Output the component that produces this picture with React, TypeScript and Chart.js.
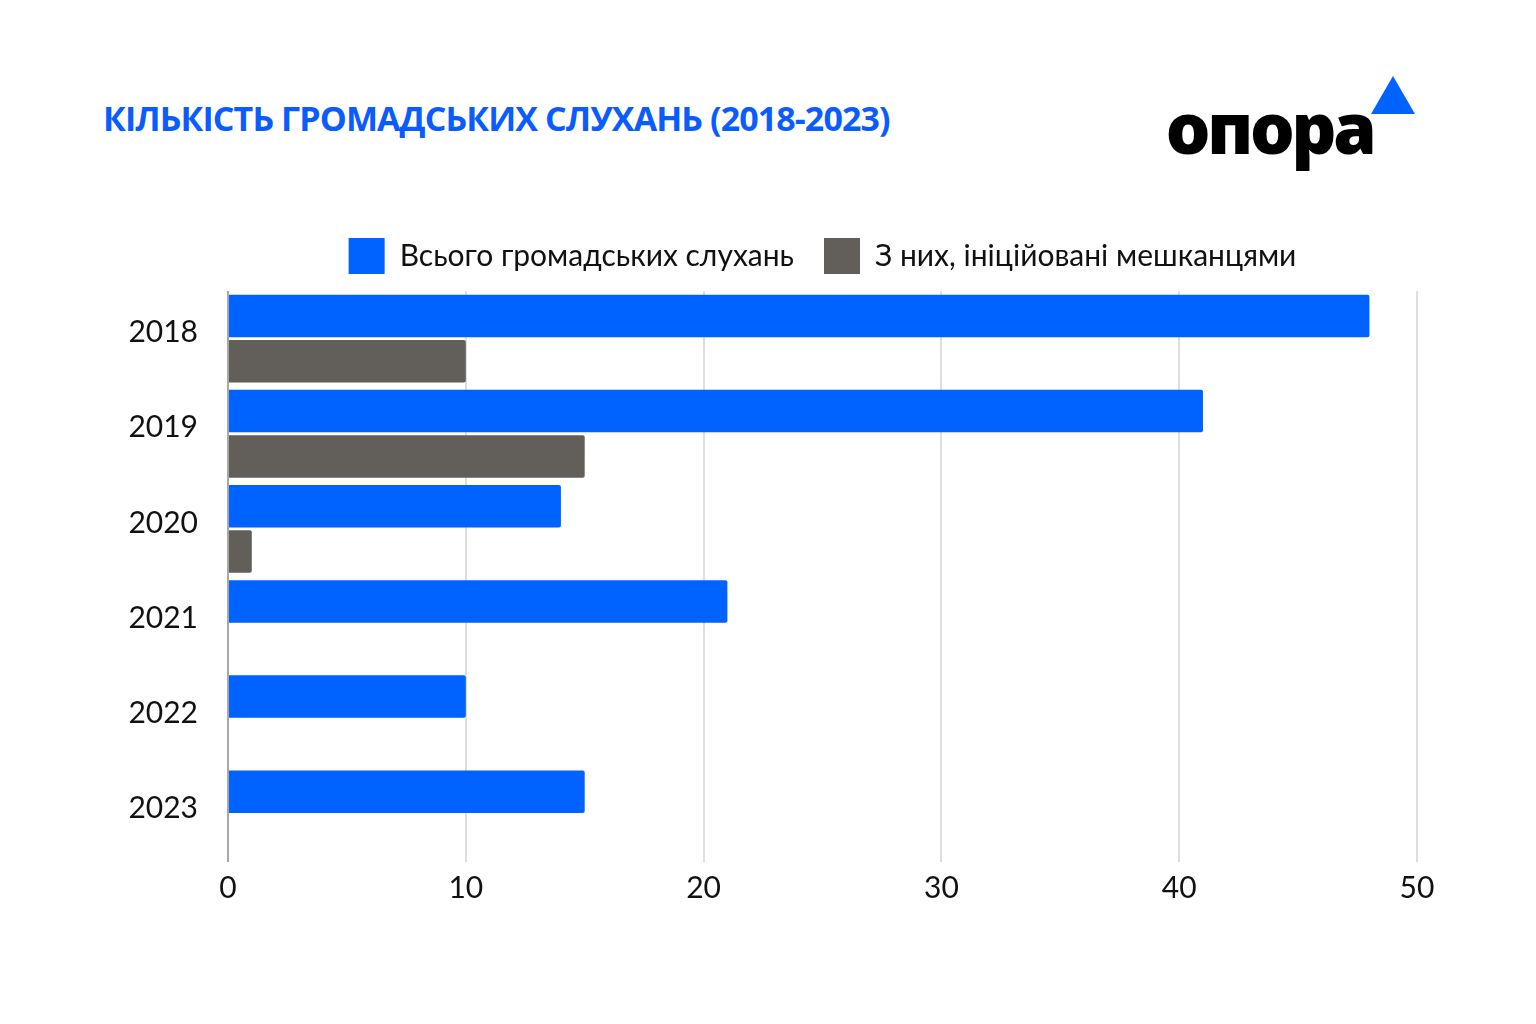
import React, { useEffect, useRef } from 'react';
import { Chart, registerables } from 'chart.js';

Chart.register(...registerables);

const years = ['2018', '2019', '2020', '2021', '2022', '2023'];
const totalHearings = [48, 41, 14, 21, 10, 15];
const residentInitiated = [10, 15, 1, 0, 0, 0];
const xTicks = [0, 10, 20, 30, 40, 50];

const BLUE = '#0062FF';
const GREY = '#625E59';
const FONT = 'Lato, "Noto Sans", sans-serif';

const legendFit = {
  id: 'legendFit',
  beforeInit(chart: any) {
    const orig = chart.legend.fit;
    chart.legend.fit = function () {
      orig.call(this);
      this.height = 83;
    };
  },
};

const App: React.FC = () => {
  const chartRef = useRef<HTMLCanvasElement | null>(null);

  useEffect(() => {
    let chartInstance: Chart | null = null;
    if (chartRef.current) {
      const ctx = chartRef.current.getContext('2d');
      if (ctx) {
        chartInstance = new Chart(ctx, {
          type: 'bar',
          data: {
            labels: years,
            datasets: [
              {
                label: 'Всього громадських слухань',
                data: totalHearings,
                backgroundColor: BLUE,
                borderRadius: 2,
                borderSkipped: 'start',
                barPercentage: 0.938,
                categoryPercentage: 0.952,
              },
              {
                label: 'З них, ініційовані мешканцями',
                data: residentInitiated,
                backgroundColor: GREY,
                borderRadius: 2,
                borderSkipped: 'start',
                barPercentage: 0.938,
                categoryPercentage: 0.952,
              },
            ],
          },
          plugins: [legendFit],
          options: {
            indexAxis: 'y',
            responsive: false,
            animation: false,
            devicePixelRatio: 1,
            layout: { padding: { top: 8, right: 119, left: 0, bottom: 0 } },
            plugins: {
              tooltip: { enabled: false },
              legend: {
                position: 'top',
                fullSize: false,
                labels: {
                  boxWidth: 36,
                  boxHeight: 36,
                  padding: 30,
                  color: '#111',
                  font: { family: FONT, size: 30 },
                },
              },
            },
            scales: {
              x: {
                min: 0,
                max: 50,
                afterBuildTicks: (scale: any) => {
                  scale.ticks = xTicks.map((v) => ({ value: v }));
                },
                afterFit: (scale: any) => {
                  scale.height = 78;
                },
                grid: {
                  color: (c: any) => (c.tick && c.tick.value === 0 ? '#a8a8a8' : '#dedede'),
                  lineWidth: 2,
                  drawTicks: false,
                },
                border: { display: false },
                ticks: {
                  padding: 8,
                  color: '#111',
                  font: { family: FONT, size: 30 },
                },
              },
              y: {
                afterFit: (scale: any) => {
                  scale.width = 228;
                },
                grid: { display: false },
                border: { display: false },
                ticks: {
                  padding: 22,
                  labelOffset: -6,
                  color: '#111',
                  font: { family: FONT, size: 30 },
                },
              },
            },
          },
        });
      }
    }
    return () => {
      if (chartInstance) chartInstance.destroy();
    };
  }, []);

  return (
    <div style={{ position: 'absolute', left: 0, top: 0, width: 1536, height: 1024, background: '#fff', overflow: 'hidden' }}>
      <div
        style={{
          position: 'absolute',
          left: 103,
          top: 96,
          fontFamily: '"Open Sans", "Noto Sans", sans-serif',
          fontWeight: 700,
          fontSize: 34,
          lineHeight: '44px',
          letterSpacing: -0.9,
          color: '#0A5CFF',
          whiteSpace: 'nowrap',
        }}
      >
        КІЛЬКІСТЬ ГРОМАДСЬКИХ СЛУХАНЬ (2018-2023)
      </div>
      <div
        style={{
          position: 'absolute',
          left: 1166,
          top: 82,
          fontFamily: '"Noto Sans", Lato, sans-serif',
          fontWeight: 900,
          fontSize: 70,
          lineHeight: '90px',
          letterSpacing: -3,
          color: '#000',
          whiteSpace: 'nowrap',
        }}
      >
        опора
      </div>
      <div
        style={{
          position: 'absolute',
          left: 1371,
          top: 76,
          width: 0,
          height: 0,
          borderLeft: '22px solid transparent',
          borderRight: '22px solid transparent',
          borderBottom: `38px solid ${BLUE}`,
        }}
      />
      <canvas
        ref={chartRef}
        width={1536}
        height={740}
        style={{ position: 'absolute', left: 0, top: 200, width: 1536, height: 740 }}
      />
    </div>
  );
};

export default App;
